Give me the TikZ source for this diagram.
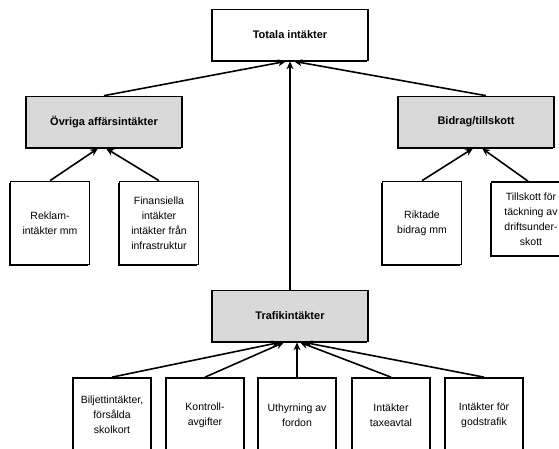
\documentclass[tikz,border=0pt]{standalone}
\usepackage{fontspec}
\setmainfont{Liberation Sans}
\usetikzlibrary{shadows,arrows.meta}

\tikzset{
    box/.style={draw, line width=1.7pt, fill=white, align=center, font=\fontsize{10.5}{15}\selectfont,
        drop shadow={shadow xshift=-1.3pt, shadow yshift=-1.3pt, opacity=1, fill=black}},
    headbox/.style={box, minimum width=156pt, minimum height=51pt, font=\fontsize{11}{13}\selectfont\bfseries},
    subbox/.style={box, minimum width=79pt, minimum height=83pt},
    lowbox/.style={box, minimum width=78pt, minimum height=74pt},
    link/.style={line width=1.6pt, -{Stealth[length=8pt,width=7pt]}}
}

\begin{document}
\begin{tikzpicture}[x=1pt,y=-1pt]
    \clip (0,0) rectangle (559,448);

    % top
    \node[headbox] (tot) at (290,35) {Totala intäkter};

    % second level
    \node[headbox, fill=gray!30] (ovr) at (104,122) {Övriga affärsintäkter};
    \node[headbox, fill=gray!30] (bid) at (476,122) {Bidrag/tillskott};
    \node[headbox, fill=gray!30] (traf) at (290,316) {Trafikintäkter};

    % under Övriga
    \node[subbox] (rek) at (50,223) {Reklam-\\intäkter mm};
    \node[subbox] (fin) at (159,223) {Finansiella\\intäkter\\intäkter från\\infrastruktur};

    % under Bidrag
    \node[subbox] (rik) at (422,223) {Riktade\\bidrag mm};
    \node[subbox, minimum height=74pt] (till) at (531,219) {Tillskott för\\täckning av\\driftsunder-\\skott};

    % under Trafik
    \node[lowbox] (bil) at (112,415) {Biljettintäkter,\\försålda\\skolkort};
    \node[lowbox] (kon) at (205,415) {Kontroll-\\avgifter};
    \node[lowbox] (uth) at (297,415) {Uthyrning av\\fordon};
    \node[lowbox] (tax) at (391,415) {Intäkter\\taxeavtal};
    \node[lowbox] (god) at (484,415) {Intäkter för\\godstrafik};

    % connectors
    \draw[link] (ovr.north) -- ([xshift=-4pt]tot.south);
    \draw[link] ([xshift=10pt]bid.north) -- ([xshift=4pt]tot.south);
    \draw[link] (traf.north) -- (tot.south);

    \draw[link] (rek.north) -- ([xshift=-6pt]ovr.south);
    \draw[link] (fin.north) -- ([xshift=2pt]ovr.south);
    \draw[link] (rik.north) -- ([xshift=-3pt]bid.south);
    \draw[link] ([xshift=-3pt]till.north) -- ([xshift=6pt]bid.south);

    \draw[link] (bil.north) -- ([xshift=-10pt]traf.south);
    \draw[link] (kon.north) -- ([xshift=-6pt]traf.south);
    \draw[link] (uth.north) -- ([xshift=7pt]traf.south);
    \draw[link] (tax.north) -- ([xshift=10pt]traf.south);
    \draw[link] (god.north) -- ([xshift=14pt]traf.south);
\end{tikzpicture}
\end{document}
